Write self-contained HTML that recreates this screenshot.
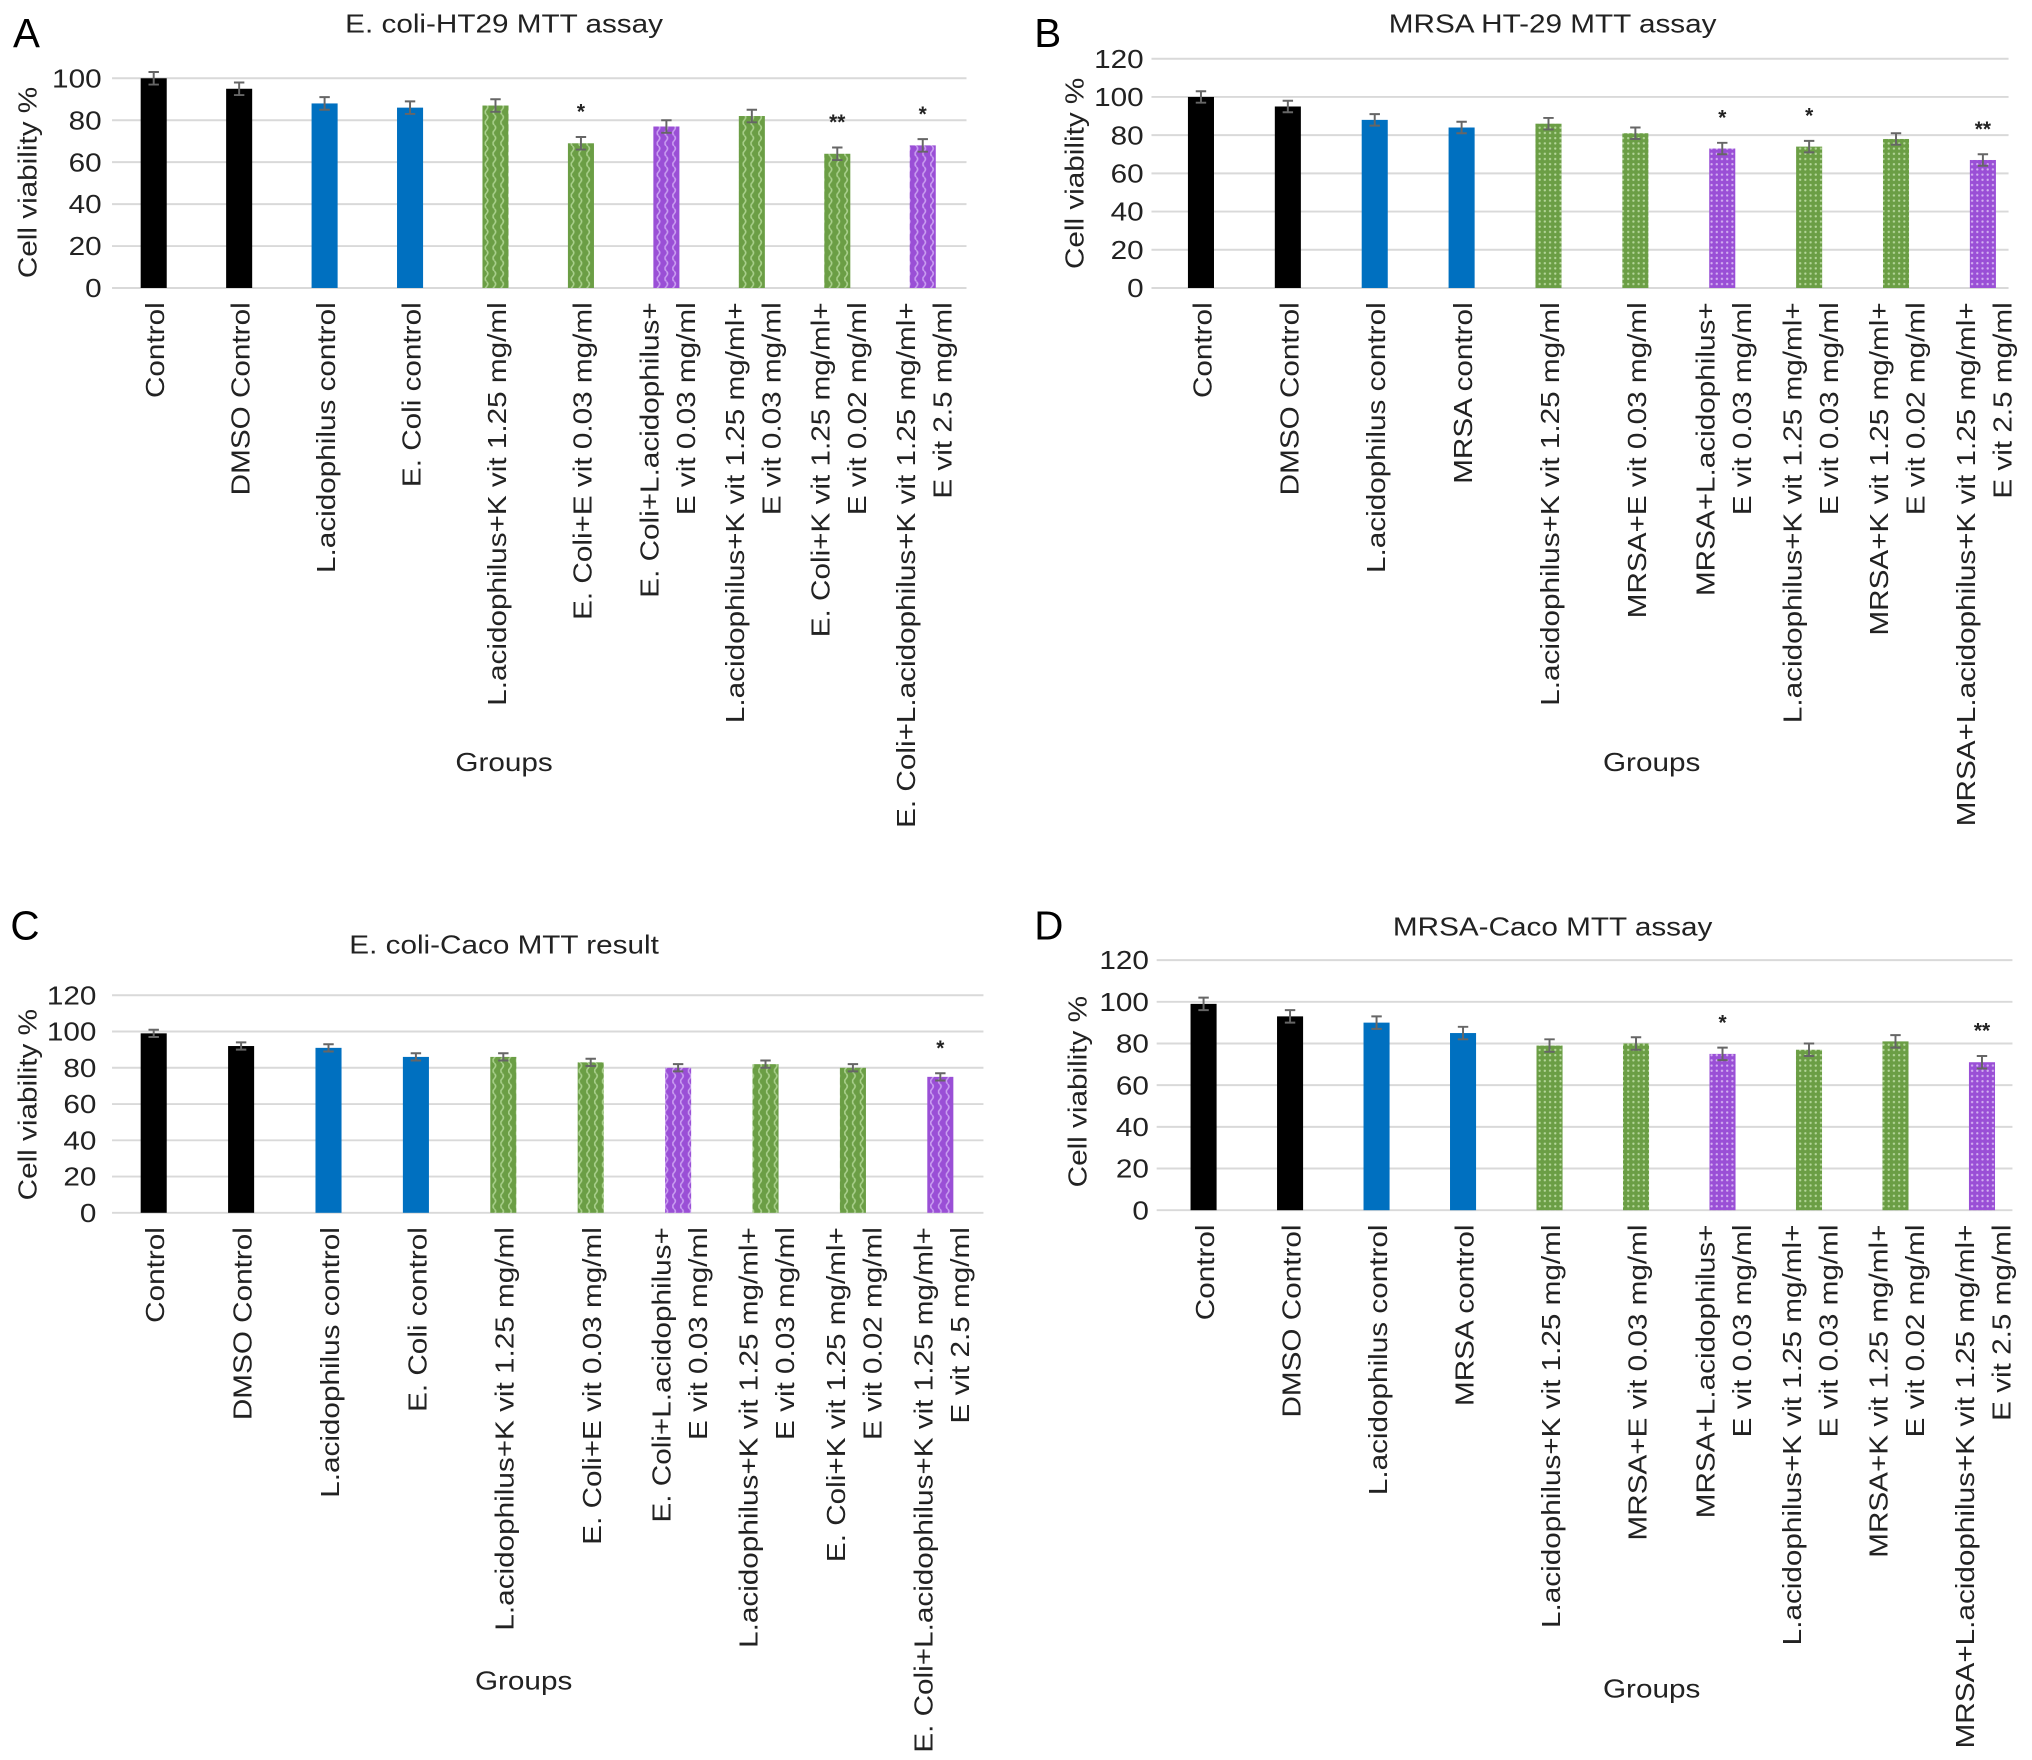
<!DOCTYPE html>
<html><head><meta charset="utf-8"><style>
html,body{margin:0;padding:0;background:#fff;}
svg{display:block;font-family:"Liberation Sans",Arial,sans-serif;}
</style></head><body>
<svg id="fig" width="2032" height="1760" viewBox="0 0 1560 1351" xmlns="http://www.w3.org/2000/svg">
<defs>
<pattern id="pWave" width="6" height="8" patternUnits="userSpaceOnUse">
<rect width="6" height="8" fill="#6b9e45"/>
<path d="M1.5 0 Q3.5 2 1.5 4 Q-0.5 6 1.5 8" stroke="#a9cf8c" stroke-width="1.2" fill="none"/>
</pattern>
<pattern id="pWaveP" width="6" height="8" patternUnits="userSpaceOnUse">
<rect width="6" height="8" fill="#9a4fd6"/>
<path d="M1.5 0 Q3.5 2 1.5 4 Q-0.5 6 1.5 8" stroke="#c99ef0" stroke-width="1.2" fill="none"/>
</pattern>
<pattern id="pDot" width="4" height="4" patternUnits="userSpaceOnUse">
<rect width="4" height="4" fill="#6b9e45"/>
<circle cx="2" cy="2" r="0.9" fill="#b5d69b"/>
</pattern>
<pattern id="pDotP" width="4" height="4" patternUnits="userSpaceOnUse">
<rect width="4" height="4" fill="#9a4fd6"/>
<circle cx="2" cy="2" r="0.9" fill="#d3b0f2"/>
</pattern>
</defs>
</svg>
<script>
const labelsA = [["Control"],["DMSO Control"],["L.acidophilus control"],["E. Coli control"],["L.acidophilus+K vit 1.25 mg/ml"],["E. Coli+E vit 0.03 mg/ml"],["E. Coli+L.acidophilus+","E vit 0.03 mg/ml"],["L.acidophilus+K vit 1.25 mg/ml+","E vit 0.03 mg/ml"],["E. Coli+K vit 1.25 mg/ml+","E vit 0.02 mg/ml"],["E. Coli+L.acidophilus+K vit 1.25 mg/ml+","E vit 2.5 mg/ml"]];
const labelsB = [["Control"],["DMSO Control"],["L.acidophilus control"],["MRSA control"],["L.acidophilus+K vit 1.25 mg/ml"],["MRSA+E vit 0.03 mg/ml"],["MRSA+L.acidophilus+","E vit 0.03 mg/ml"],["L.acidophilus+K vit 1.25 mg/ml+","E vit 0.03 mg/ml"],["MRSA+K vit 1.25 mg/ml+","E vit 0.02 mg/ml"],["MRSA+L.acidophilus+K vit 1.25 mg/ml+","E vit 2.5 mg/ml"]];
const valuesA = [100,95,88,86,87,69,77,82,64,68];
const valuesB = [100,95,88,84,86,81,73,74,78,67];
const valuesC = [99,92,91,86,86,83,80,82,80,75];
const valuesD = [99,93,90,85,79,80,75,77,81,71];
const errA = [3,3,3,3,3,3,3,3,3,3];
const errB = [3,3,3,3,3,3,3,3,3,3];
const errC = [2,2,2,2,2,2,2,2,2,2];
const errD = [3,3,3,3,3,3,3,3,3,3];
const sigA = ["","","","","","*","","","**","*"];
const sigB = ["","","","","","","*","*","","**"];
const sigC = ["","","","","","","","","","*"];
const sigD = ["","","","","","","*","","","**"];
const colorsA = ["k","k","b","b","g","g","p","g","g","p"];
const colorsB = ["k","k","b","b","g","g","p","g","g","p"];
const ticksA = [0,20,40,60,80,100];
const ticks120 = [0,20,40,60,80,100,120];

const svg = document.getElementById('fig');
const NS = "http://www.w3.org/2000/svg";
const SX = 1.14;
function mk(tag, attrs, parent){const e=document.createElementNS(NS,tag);for(const k in attrs)e.setAttribute(k,attrs[k]);(parent||svg).appendChild(e);return e;}
function stretch(x,y,rot){return (rot?`rotate(-90 ${x} ${y}) `:'')+`translate(${x} ${y}) scale(${SX} 1) translate(${-x} ${-y})`;}

function panel(cfg){
  const g = mk('g',{});
  
  
  const yMax = cfg.ticks[cfg.ticks.length-1];
  const y = v => cfg.y0 - (cfg.y0-cfg.yTop)*v/yMax;
  const x = i => cfg.x0 + cfg.step*i;
  cfg.ticks.forEach(t=>{
    const l = mk('line',{x1:cfg.px0,x2:cfg.px1,y1:y(t),y2:y(t),stroke:'#d9d9d9','stroke-width':1.5},g);
    
    
    const tx = mk('text',{x:cfg.tickX,y:y(t)+7,'font-size':20,'text-anchor':'end',fill:'#222',transform:stretch(cfg.tickX,y(t)+7,false)},g);
    tx.textContent = t;
    
    
  });
  const fills = cfg.pat==='wave' ? {k:'#000',b:'#0070c0',g:'url(#pWave)',p:'url(#pWaveP)'} : {k:'#000',b:'#0070c0',g:'url(#pDot)',p:'url(#pDotP)'};
  cfg.values.forEach((v,i)=>{
    const bw = 20;
    const r = mk('rect',{x:x(i)-bw/2,y:y(v),width:bw,height:y(0)-y(v),fill:fills[cfg.colors[i]]},g);
    
    
    const e = cfg.err[i];
    const eb = mk('path',{d:`M${x(i)} ${y(v+e)}V${y(v-e)}M${x(i)-4} ${y(v+e)}H${x(i)+4}M${x(i)-4} ${y(v-e)}H${x(i)+4}`,stroke:'#666','stroke-width':1.5,fill:'none'},g);
    
    
    if(cfg.sig[i]){
      const s = mk('text',{x:x(i),y:y(v+e)-14,'font-size':16,'font-weight':'bold','text-anchor':'middle',fill:'#222'},g);
      s.textContent = cfg.sig[i];
      
      
    }
    const lines = cfg.labels[i];
    lines.forEach((ln,j)=>{
      const off = lines.length===1 ? 8 : (j===0 ? -6 : 22);
      const lx = x(i)+off, ly = cfg.labelY;
      const t = mk('text',{x:lx,y:ly,'font-size':20,'text-anchor':'end',fill:'#222',transform:stretch(lx,ly,true)},g);
      t.textContent = ln;
      
      
    });
  });
  const tt = mk('text',{x:cfg.titleX,y:cfg.titleY,'font-size':20,'text-anchor':'middle',fill:'#222',transform:stretch(cfg.titleX,cfg.titleY,false)},g);
  tt.textContent = cfg.title;
  
  
  const pl = mk('text',{x:cfg.letterX,y:cfg.letterY,'font-size':31,fill:'#000'},g);
  pl.textContent = cfg.id;
  
  
  const yt = mk('text',{x:cfg.yTitleX,y:cfg.yTitleY,'font-size':20,'text-anchor':'middle',fill:'#222',transform:stretch(cfg.yTitleX,cfg.yTitleY,true)},g);
  yt.textContent = 'Cell viability %';
  
  
  const gx = mk('text',{x:cfg.groupsX,y:cfg.groupsY,'font-size':20,'text-anchor':'middle',fill:'#222',transform:stretch(cfg.groupsX,cfg.groupsY,false)},g);
  gx.textContent = 'Groups';
  
  
}

panel({id:'A',title:'E. coli-HT29 MTT assay',values:valuesA,err:errA,sig:sigA,colors:colorsA,labels:labelsA,ticks:ticksA,pat:'wave',
  y0:221,yTop:60,x0:118,step:65.6,px0:86,px1:742,tickX:78,labelY:232,titleX:387,titleY:25,letterX:10,letterY:36,yTitleX:28,yTitleY:140,groupsX:387,groupsY:592});
panel({id:'B',title:'MRSA HT-29 MTT assay',values:valuesB,err:errB,sig:sigB,colors:colorsB,labels:labelsB,ticks:ticks120,pat:'dot',
  y0:221,yTop:45,x0:922,step:66.7,px0:884,px1:1542,tickX:878,labelY:232,titleX:1192,titleY:25,letterX:794,letterY:36,yTitleX:832,yTitleY:133,groupsX:1268,groupsY:592});
panel({id:'C',title:'E. coli-Caco MTT result',values:valuesC,err:errC,sig:sigC,colors:colorsA,labels:labelsA,ticks:ticks120,pat:'wave',
  y0:931,yTop:764,x0:118,step:67.1,px0:86,px1:755,tickX:74,labelY:942,titleX:387,titleY:732,letterX:8,letterY:721,yTitleX:28,yTitleY:848,groupsX:402,groupsY:1297});
panel({id:'D',title:'MRSA-Caco MTT assay',values:valuesD,err:errD,sig:sigD,colors:colorsB,labels:labelsB,ticks:ticks120,pat:'dot',
  y0:929,yTop:737,x0:924,step:66.4,px0:888,px1:1545,tickX:882,labelY:940,titleX:1192,titleY:718,letterX:794,letterY:721,yTitleX:834,yTitleY:838,groupsX:1268,groupsY:1303});
</script>
</body></html>
